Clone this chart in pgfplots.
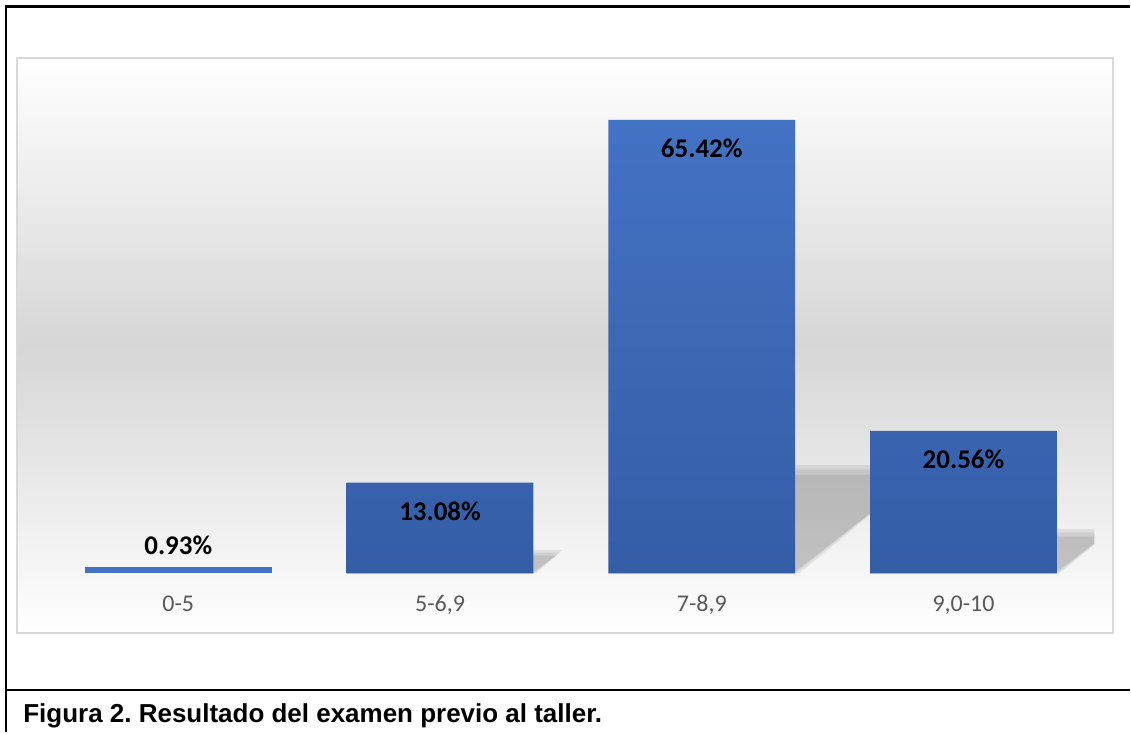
\documentclass[border=0pt]{standalone}
\usepackage{pgfplots}
\pgfplotsset{compat=1.18}
\usepackage{fontspec}
\setmainfont{Carlito}
\newfontfamily\capfont{Liberation Sans}
\definecolor{barTop}{RGB}{68,114,196}
\definecolor{barBot}{RGB}{52,93,166}
\definecolor{tickgray}{RGB}{89,89,89}
\definecolor{frameGray}{RGB}{217,217,217}
\definecolor{bgGray}{RGB}{214,214,214}
\begin{document}
\begin{tikzpicture}
\begin{scope}[x=0.5pt,y=-0.5pt,yshift=366.5pt]
\path (0,0) rectangle (1131,733);
\shade[top color=white,bottom color=white,middle color=bgGray] (17,58) rectangle (1114,634);
\draw[frameGray,line width=1pt] (17,58) rectangle (1114,634);
\draw[black,line width=1.2pt] (6,733) -- (6,6.5) -- (1131,6.5);
\draw[black,line width=1.2pt] (6,690.5) -- (1131,690.5);
\node[anchor=base west,font=\capfont\bfseries\fontsize{13}{15}\selectfont,inner sep=0pt] at (23,723) {\frenchspacing Figura 2. Resultado del examen previo al taller.};
\end{scope}
\begin{axis}[
  at={(23.75pt,79.5pt)}, anchor=south west,
  scale only axis, width=524pt, height=242.9pt,
  xmin=-0.5, xmax=3.5, ymin=0, ymax=70,
  axis line style={draw=none},
  major tick length=0pt,
  ytick=\empty,
  xtick={0,1,2,3},
  xticklabels={0-5,{5-6,9},{7-8,9},{9,0-10}},
  xticklabel style={font=\fontsize{12}{14}\selectfont, text=tickgray, anchor=base, yshift=-19pt},
  bar width=93.5pt,
  shadow/.style={fill=black, fill opacity=0.075, draw=none},
]
% soft shadows behind the bars (three layers each)
\addplot[shadow] coordinates {(0.643,0) (0.753,3.4) (1.467,3.4) (1.367,0)} \closedcycle;
\addplot[shadow] coordinates {(0.643,0) (0.743,3.0) (1.457,3.0) (1.357,0)} \closedcycle;
\addplot[shadow] coordinates {(0.643,0) (0.733,2.6) (1.447,2.6) (1.347,0)} \closedcycle;
\addplot[shadow] coordinates {(1.643,0) (2.145,15.6) (2.873,15.6) (2.372,0)} \closedcycle;
\addplot[shadow] coordinates {(1.643,0) (2.139,15) (2.853,15) (2.357,0)} \closedcycle;
\addplot[shadow] coordinates {(1.643,0) (2.13,14.2) (2.833,14.2) (2.347,0)} \closedcycle;
\addplot[shadow] coordinates {(2.643,0) (2.845,6.4) (3.572,6.4) (3.367,0)} \closedcycle;
\addplot[shadow] coordinates {(2.643,0) (2.838,5.9) (3.552,5.9) (3.357,0)} \closedcycle;
\addplot[shadow] coordinates {(2.643,0) (2.83,5.3) (3.535,5.3) (3.347,0)} \closedcycle;
% bars with labels inside
\addplot[ybar, bar shift=0pt, draw=none, top color=barTop, bottom color=barBot,
  point meta=explicit symbolic, nodes near coords,
  every node near coord/.append style={anchor=base, yshift=-19pt, font=\bfseries\fontsize{13.5}{16}\selectfont, text=black}]
  coordinates {(1,13.08) [13.08\%] (2,65.42) [65.42\%] (3,20.56) [20.56\%]};
% small bar with label above
\addplot[ybar, bar shift=0pt, draw=none, fill=barTop,
  point meta=explicit symbolic, nodes near coords,
  every node near coord/.append style={anchor=base, yshift=6.25pt, font=\bfseries\fontsize{13.5}{16}\selectfont, text=black}]
  coordinates {(0,0.93) [0.93\%]};
\end{axis}
\end{tikzpicture}
\end{document}
